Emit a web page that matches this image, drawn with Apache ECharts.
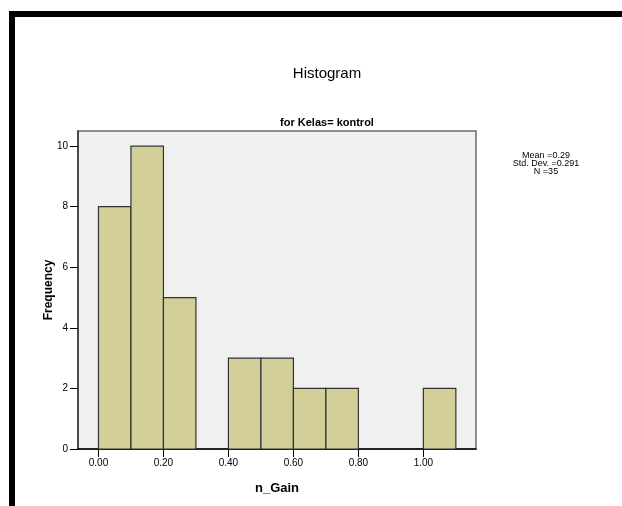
<!DOCTYPE html>
<html>
<head>
<meta charset="utf-8">
<script src="https://cdn.jsdelivr.net/npm/echarts@6/dist/echarts.min.js"></script>
<style>
html,body{margin:0;padding:0;background:#fff;}
#chart{width:622px;height:506px;}
</style>
</head>
<body>
<div id="chart"></div>
<script>
// Data
const binStarts = [0.0, 0.1, 0.2, 0.4, 0.5, 0.6, 0.7, 1.0];
const binEnds   = [0.1, 0.2, 0.3, 0.5, 0.6, 0.7, 0.8, 1.1];
const counts    = [8, 10, 5, 3, 3, 2, 2, 2];
const xTickValues = [0.0, 0.2, 0.4, 0.6, 0.8, 1.0];
const yTickValues = [0, 2, 4, 6, 8, 10];
const statsLines = ['Mean =0.29', 'Std. Dev. =0.291', 'N =35'];
const titleText = 'Histogram';
const subtitleText = 'for Kelas= kontrol';
const xName = 'n_Gain';
const yName = 'Frequency';

const FONT = '"Liberation Sans", Arial, sans-serif';
const chart = echarts.init(document.getElementById('chart'), null, {renderer: 'canvas'});

const data = binStarts.map((s, i) => [s, binEnds[i], counts[i]]);

chart.setOption({
  animation: false,
  backgroundColor: '#ffffff',
  title: [
    {text: titleText, left: 322, top: 61, textAlign: 'center',
     textStyle: {fontFamily: FONT, fontSize: 15, fontWeight: 'normal', color: '#000'}},
    {text: subtitleText, left: 322, top: 112, textAlign: 'center',
     textStyle: {fontFamily: FONT, fontSize: 11, fontWeight: 'bold', color: '#000'}}
  ],
  grid: {left: 78, top: 131, width: 398, height: 318, show: true,
         backgroundColor: '#f0f0f0', borderColor: '#6e6e6e', borderWidth: 1.5},
  xAxis: {
    type: 'value', min: -0.063, max: 1.162,
    name: xName, nameLocation: 'middle', nameGap: 33,
    nameTextStyle: {fontFamily: FONT, fontSize: 13, fontWeight: 'bold', color: '#000'},
    axisLine: {show: true, onZero: false, lineStyle: {color: '#000', width: 1.5}},
    axisTick: {show: true, length: 8, customValues: xTickValues, lineStyle: {color: '#000'}},
    axisLabel: {customValues: xTickValues, formatter: v => v.toFixed(2), margin: 9,
                fontFamily: FONT, fontSize: 10, color: '#000'},
    splitLine: {show: false}
  },
  yAxis: {
    type: 'value', min: 0, max: 10.5,
    name: yName, nameLocation: 'middle', nameGap: 23, nameRotate: 90,
    nameMoveOverlap: false,
    nameTextStyle: {fontFamily: FONT, fontSize: 12, fontWeight: 'bold', color: '#000'},
    axisLine: {show: true, onZero: false, lineStyle: {color: '#333', width: 1.5}},
    axisTick: {show: true, length: 8, customValues: yTickValues, lineStyle: {color: '#000'}},
    axisLabel: {customValues: yTickValues, margin: 10, fontFamily: FONT, fontSize: 10, color: '#000'},
    splitLine: {show: false}
  },
  graphic: [
    {type: 'rect', shape: {x: 9, y: 11, width: 613, height: 6}, style: {fill: '#000'}, z: 100},
    {type: 'rect', shape: {x: 9, y: 11, width: 6, height: 495}, style: {fill: '#000'}, z: 100},
    {type: 'text', x: 546, y: 151, z: 100,
     style: {text: statsLines.join('\n'), fontFamily: FONT, fontSize: 9, lineHeight: 8.3,
             fill: '#000', align: 'center', verticalAlign: 'top'}}
  ],
  series: [{
    type: 'custom',
    clip: true,
    data: data,
    encode: {x: [0, 1], y: 2},
    renderItem: function (params, api) {
      const p0 = api.coord([api.value(0), api.value(2)]);
      const p1 = api.coord([api.value(1), 0]);
      return {
        type: 'rect',
        shape: {x: p0[0], y: p0[1], width: p1[0] - p0[0], height: p1[1] - p0[1]},
        style: {fill: '#d3cf98', stroke: '#333', lineWidth: 1.2}
      };
    }
  }]
});
</script>
</body>
</html>
